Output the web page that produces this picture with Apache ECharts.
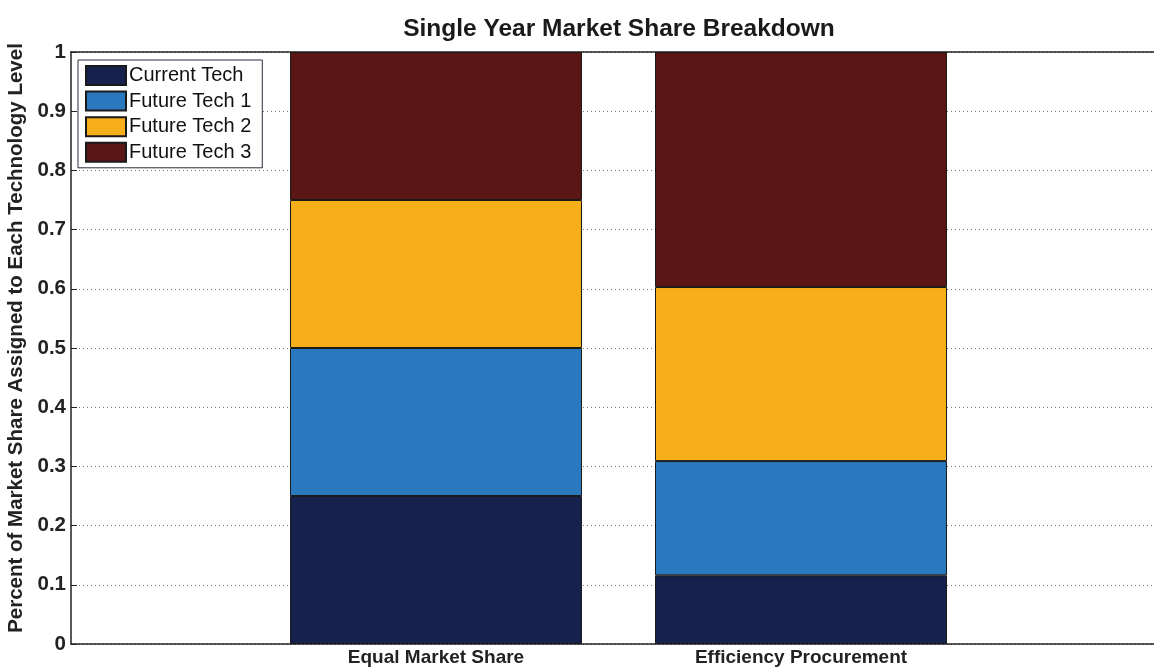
<!DOCTYPE html>
<html>
<head>
<meta charset="utf-8">
<script src="https://cdn.jsdelivr.net/npm/echarts@6/dist/echarts.min.js"></script>
<style>
html,body{margin:0;padding:0;background:#fff;}
#chart{width:1154px;height:668px;}
</style>
</head>
<body>
<div id="chart"></div>
<script>
// ---- data ----
var categories = ['Equal Market Share', 'Efficiency Procurement'];
var seriesNames = ['Current Tech', 'Future Tech 1', 'Future Tech 2', 'Future Tech 3'];
var currentTech = [0.25, 0.116];
var futureTech1 = [0.25, 0.193];
var futureTech2 = [0.25, 0.294];
var futureTech3 = [0.25, 0.397];
var yTicks = [0, 0.1, 0.2, 0.3, 0.4, 0.5, 0.6, 0.7, 0.8, 0.9, 1];
var colors = ['#17214d', '#2a78bd', '#f6ae19', '#5a1614'];

// pad the category axis so bars sit at x=1 and x=2 of a [0,3] range (MATLAB style)
var axisCats = [''].concat(categories).concat(['']);
function pad(arr) { return [null].concat(arr).concat([null]); }
var values = [currentTech, futureTech1, futureTech2, futureTech3];

var font = 'Liberation Sans, Arial, sans-serif';
var chart = echarts.init(document.getElementById('chart'));
var series = seriesNames.map(function (name, i) {
  return {
    name: name,
    type: 'bar',
    stack: 'share',
    barWidth: 292,
    data: pad(values[i]),
    itemStyle: { color: colors[i], borderColor: '#1a1a1a', borderWidth: 1 },
    emphasis: { disabled: true },
    z: 3
  };
});

chart.setOption({
  animation: false,
  backgroundColor: '#ffffff',
  title: {
    text: 'Single Year Market Share Breakdown',
    left: 614, textAlign: 'center', top: 12,
    textStyle: { fontFamily: font, fontSize: 24.5, fontWeight: 'bold', color: '#1a1a1a' }
  },
  legend: {
    orient: 'vertical',
    left: 78, top: 60,
    itemWidth: 40, itemHeight: 19, itemGap: 4.6,
    padding: [5, 11, 5, 7],
    icon: 'rect',
    backgroundColor: '#ffffff',
    borderColor: '#2a2a3a', borderWidth: 1,
    textStyle: { fontFamily: font, fontSize: 20, color: '#111', padding: [0, 0, 0, -2] },
    data: seriesNames,
    selectedMode: false
  },
  grid: { left: 71, top: 52, width: 1095, height: 592, outerBoundsMode: 'none', containLabel: false },
  xAxis: [{
    type: 'category',
    data: axisCats,
    boundaryGap: false,
    axisLine: { show: true, lineStyle: { color: '#222', width: 1.5 } },
    axisTick: { show: false },
    axisLabel: { fontFamily: font, fontSize: 19, fontWeight: 'bold', color: '#222', margin: 4, interval: 0 },
    splitLine: { show: false }
  }, {
    type: 'category',
    position: 'top',
    data: axisCats,
    boundaryGap: false,
    axisLine: { show: true, lineStyle: { color: '#222', width: 1.5 } },
    axisTick: { show: false },
    axisLabel: { show: false }
  }],
  yAxis: {
    type: 'value',
    min: 0, max: 1, interval: 0.1,
    name: 'Percent of Market Share Assigned to Each Technology Level',
    nameLocation: 'middle',
    nameGap: 41,
    nameTextStyle: { fontFamily: font, fontSize: 20.5, fontWeight: 'bold', color: '#222', padding: [0, 0, 0, 20] },
    axisLine: { show: true, lineStyle: { color: '#222', width: 1.5 } },
    axisTick: { show: true, inside: true, length: 6, lineStyle: { color: '#222' } },
    axisLabel: {
      fontFamily: font, fontSize: 20.5, fontWeight: 'bold', color: '#222', margin: 5,
      formatter: function (v) {
        for (var i = 0; i < yTicks.length; i++) { if (Math.abs(yTicks[i] - v) < 1e-9) return String(yTicks[i]); }
        return '';
      }
    },
    splitLine: { show: true, lineStyle: { type: [1, 3], color: '#777', width: 1 } }
  },
  series: series
});
</script>
</body>
</html>
